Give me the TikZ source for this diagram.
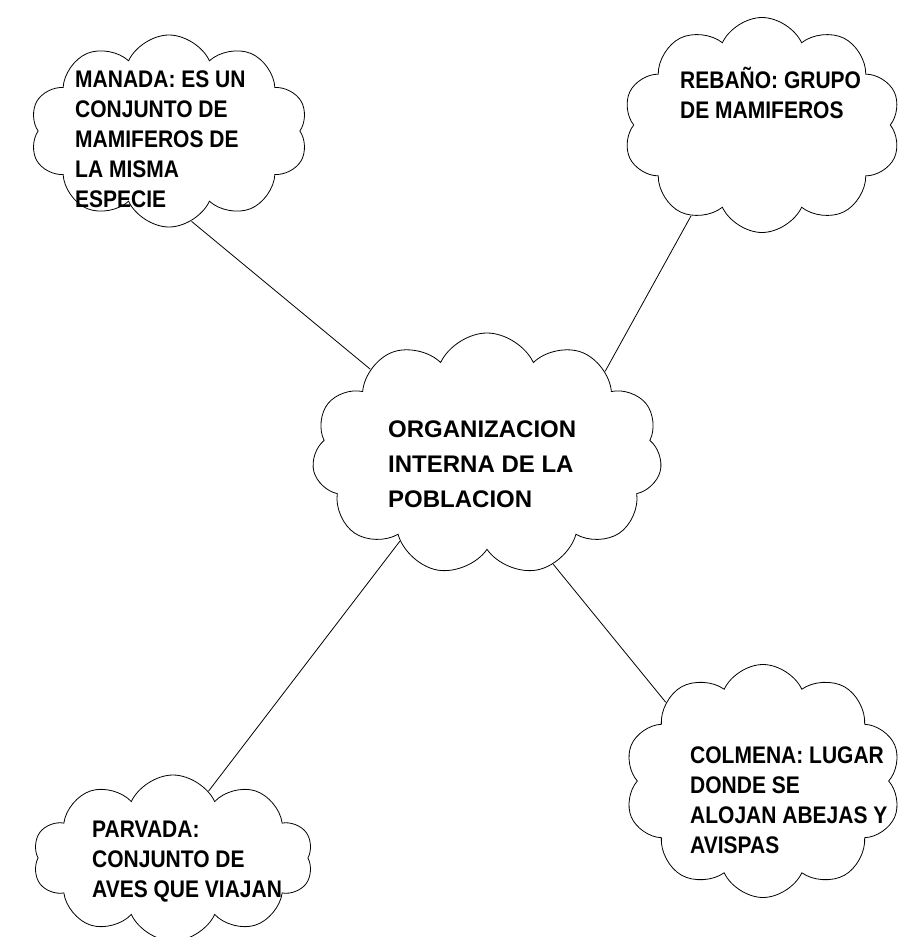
\documentclass[tikz,border=0pt]{standalone}
\usepackage{fontspec}
\setmainfont{Liberation Sans}
\newfontfamily\narrowfont[FakeStretch=0.875]{Liberation Sans}
\usetikzlibrary{shapes.symbols}

\begin{document}
\begin{tikzpicture}[x=1pt, y=-1pt,
    idea/.style = {draw, cloud, cloud puffs=10, cloud puff arc=130, cloud ignores aspect, line width=0.8pt, inner sep=0pt},
    txt/.style = {anchor=base west, inner sep=0pt, align=left, font=\narrowfont\bfseries\fontsize{24}{30}\selectfont}]
    \useasboundingbox (0, 0) rectangle (903, 937);
    % nubes
    \node [idea, minimum width=278, minimum height=192] (manada) at (169, 131) {};
    \node [idea, minimum width=278, minimum height=215] (rebano) at (762, 125) {};
    \node [idea, cloud puffs=11, minimum width=350, minimum height=242] (poblacion) at (487, 454) {};
    \node [idea, minimum width=277, minimum height=233] (colmena) at (763, 781) {};
    \node [idea, minimum width=280, minimum height=166] (parvada) at (173, 858) {};
    % textos (base = ultima linea)
    \node [txt] (manadatxt) at (75, 207) {MANADA: ES UN\\CONJUNTO DE\\MAMIFEROS DE\\LA MISMA\\ESPECIE};
    \node [txt] (rebanotxt) at (680, 118) {REBAÑO: GRUPO\\DE MAMIFEROS};
    \node [txt, font=\bfseries\fontsize{24}{35}\selectfont] (poblaciontxt) at (388, 507) {ORGANIZACION\\INTERNA DE LA\\POBLACION};
    \node [txt] (colmenatxt) at (690, 853) {COLMENA: LUGAR\\DONDE SE\\ALOJAN ABEJAS Y\\AVISPAS};
    \node [txt] (parvadatxt) at (92, 897) {PARVADA:\\CONJUNTO DE\\AVES QUE VIAJAN};
    % lineas
    \draw [line width=0.8pt] (manada.-76) -- (poblacion.144);
    \draw [line width=0.8pt] (rebano.-128) -- (poblacion.35);
    \draw [line width=0.8pt] (poblacion.-59) -- (colmena.141);
    \draw [line width=0.8pt] (poblacion.-135) -- (parvada.62);
\end{tikzpicture}
\end{document}
